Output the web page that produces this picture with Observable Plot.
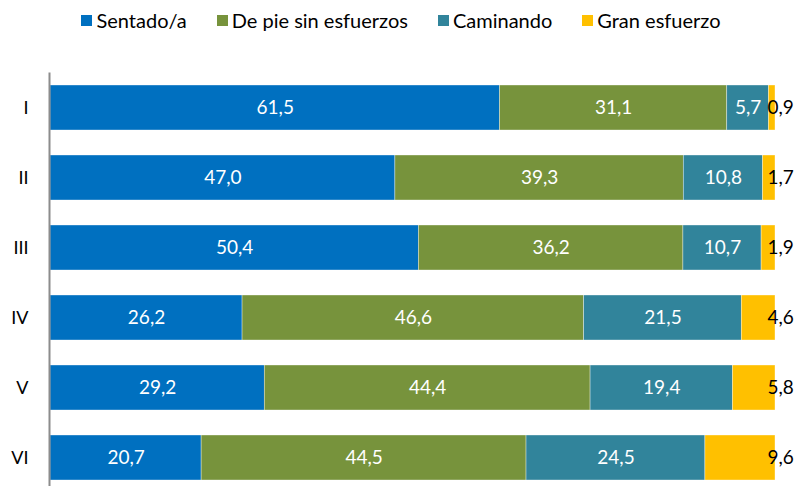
<!DOCTYPE html>
<html>
<head>
<meta charset="utf-8">
<script src="https://cdn.jsdelivr.net/npm/d3@7"></script>
<script src="https://cdn.jsdelivr.net/npm/@observablehq/plot@0.6"></script>
<style>
  html, body { margin: 0; padding: 0; background: #fff; overflow: hidden; }
  body { width: 796px; height: 486px; font-family: Lato, "Open Sans", sans-serif; }
  #legend { height: 40px; display: flex; justify-content: center; align-items: center; gap: 30px; font-size: 20px; color: #000; padding-left: 6px; box-sizing: border-box; }
  .item { display: flex; align-items: center; gap: 4px; }
  .sw { width: 11px; height: 11px; display: inline-block; }
  #chart svg { display: block; }
</style>
</head>
<body>
<div id="legend"></div>
<div id="chart"></div>
<script>
const categories = ["I", "II", "III", "IV", "V", "VI"];
const series = ["Sentado/a", "De pie sin esfuerzos", "Caminando", "Gran esfuerzo"];
const sentado = [61.5, 47.0, 50.4, 26.2, 29.2, 20.7];
const dePie = [31.1, 39.3, 36.2, 46.6, 44.4, 44.5];
const caminando = [5.7, 10.8, 10.7, 21.5, 19.4, 24.5];
const granEsfuerzo = [0.9, 1.7, 1.9, 4.6, 5.8, 9.6];
const colors = ["#0070C0", "#77933C", "#31849B", "#FFC000"];

const valuesBySeries = [sentado, dePie, caminando, granEsfuerzo];
const data = [];
categories.forEach((c, i) => {
  series.forEach((s, j) => {
    data.push({cat: c, serie: s, value: valuesBySeries[j][i]});
  });
});
const fmt = v => v.toFixed(1).replace(".", ",");

// legend
const legend = document.getElementById("legend");
series.forEach((s, j) => {
  const it = document.createElement("span");
  it.className = "item";
  const sw = document.createElement("span");
  sw.className = "sw";
  sw.style.background = colors[j];
  const t = document.createElement("span");
  t.textContent = s;
  it.appendChild(sw);
  it.appendChild(t);
  legend.appendChild(it);
});

const last = series[series.length - 1];
const chart = Plot.plot({
  width: 796,
  height: 453,
  marginTop: 32.5,
  marginBottom: 0.5,
  marginLeft: 50,
  marginRight: 21,
  style: {fontFamily: "Lato, 'Open Sans', sans-serif", fontSize: "18px", color: "#000", background: "#fff"},
  x: {axis: null, domain: [0, 1]},
  y: {domain: categories, paddingInner: 25 / 70, paddingOuter: 12.5 / 70, label: null},
  color: {domain: series, range: colors},
  marks: [
    Plot.barX(data, Plot.stackX({x: "value", y: "cat", fill: "serie", order: series, offset: "normalize", stroke: "#fff", strokeWidth: 0.6, strokeOpacity: 0.6})),
    Plot.ruleX([0], {stroke: "#8c8c8c", strokeWidth: 2, dx: -1}),
    Plot.text(data, Plot.stackX({x: "value", y: "cat", z: "serie", order: series, offset: "normalize",
      text: d => d.serie === last ? null : fmt(d.value), fill: "#fff", fontSize: 19})),
    Plot.text(data, Plot.stackX2({x: "value", y: "cat", z: "serie", order: series, offset: "normalize",
      text: d => d.serie === last ? fmt(d.value) : null, fill: "#000", textAnchor: "start", dx: -8, fontSize: 19})),
    Plot.axisY({tickSize: 0, tickPadding: 22, fontSize: 18, label: null})
  ]
});
document.getElementById("chart").appendChild(chart);
</script>
</body>
</html>
